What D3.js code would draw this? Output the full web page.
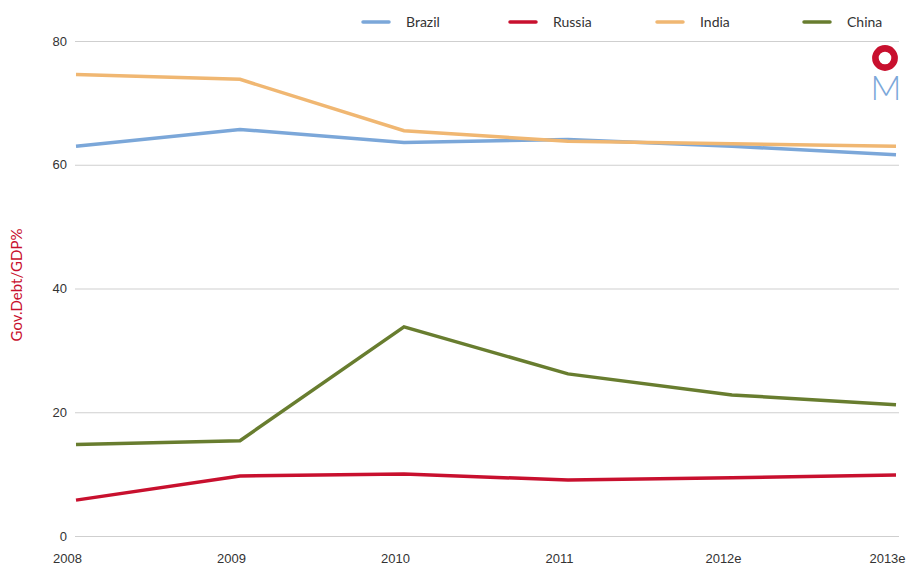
<!DOCTYPE html>
<html>
<head>
<meta charset="utf-8">
<script src="https://cdn.jsdelivr.net/npm/d3@7/dist/d3.min.js"></script>
<style>
  html, body { margin: 0; padding: 0; background: #fff; }
  svg { display: block; font-family: Lato, "Open Sans", sans-serif; }
</style>
</head>
<body>
<svg id="chart" width="907" height="565"></svg>
<script>
// Government debt as a share of GDP, BRIC economies
const years = ["2008", "2009", "2010", "2011", "2012e", "2013e"];
const brazil = [63.0, 65.7, 63.6, 64.1, 63.0, 61.6];
const russia = [5.8, 9.7, 10.0, 9.05, 9.4, 9.85];
const india  = [74.6, 73.8, 65.5, 63.8, 63.4, 63.0];
const china  = [14.8, 15.4, 33.8, 26.2, 22.8, 21.2];
const yTicks = [0, 20, 40, 60, 80];

const series = [
  { name: "Brazil", values: brazil, color: "#7ba7d9" },
  { name: "Russia", values: russia, color: "#c8102e" },
  { name: "India",  values: india,  color: "#f0b772" },
  { name: "China",  values: china,  color: "#687d2f" }
];

const svg = d3.select("#chart");
const plotLeft = 76, plotRight = 896, plotTop = 41, plotBottom = 536;

const x = d3.scalePoint().domain(years).range([plotLeft, plotRight]);
const y = d3.scaleLinear().domain([0, 80]).range([plotBottom, plotTop]);

// horizontal gridlines with value labels
const yAxis = svg.append("g").attr("transform", `translate(${plotLeft - 1},0)`)
  .call(d3.axisLeft(y).tickValues(yTicks).tickSize(-(plotRight + 4 - plotLeft)).tickPadding(8).tickFormat(d3.format("d")));
yAxis.select(".domain").remove();
yAxis.selectAll(".tick line").attr("stroke", "#cfcfcf").attr("stroke-width", 1.2);
yAxis.selectAll(".tick text").attr("fill", "#333").attr("font-size", 13);

// category labels along the bottom
const xAxis = svg.append("g").attr("transform", `translate(0,${plotBottom})`)
  .call(d3.axisBottom(x).tickSize(0).tickPadding(18));
xAxis.select(".domain").remove();
xAxis.selectAll(".tick text").attr("fill", "#333").attr("font-size", 13).attr("dx", -9);

// axis title
svg.append("text")
  .attr("transform", "translate(22,285) rotate(-90)")
  .attr("text-anchor", "middle")
  .attr("fill", "#c8102e")
  .attr("font-size", 15)
  .text("Gov.Debt/GDP%");

// series lines
const line = d3.line().x((d, i) => x(years[i])).y(d => y(d));
svg.append("g").selectAll("path").data(series).join("path")
  .attr("d", d => line(d.values))
  .attr("fill", "none")
  .attr("stroke", d => d.color)
  .attr("stroke-width", 3.5)
  .attr("stroke-linejoin", "miter");

// legend
const legend = svg.append("g").selectAll("g").data(series).join("g")
  .attr("transform", (d, i) => `translate(${363 + i * 147},22)`);
legend.append("line")
  .attr("x1", 0).attr("x2", 26)
  .attr("stroke", d => d.color).attr("stroke-width", 3.5).attr("stroke-linecap", "round");
legend.append("text")
  .attr("x", 43).attr("dy", "0.35em")
  .attr("fill", "#333").attr("font-size", 14)
  .text(d => d.name);

// logo mark
const logo = svg.append("g").attr("transform", "translate(885,58)");
logo.append("circle").attr("r", 9.6).attr("fill", "none").attr("stroke", "#c8102e").attr("stroke-width", 6.6);
logo.append("text")
  .attr("x", 1).attr("y", 42).attr("text-anchor", "middle")
  .attr("fill", "#7ba7d9").attr("font-size", 34).attr("font-weight", 300)
  .text("M");
</script>
</body>
</html>
